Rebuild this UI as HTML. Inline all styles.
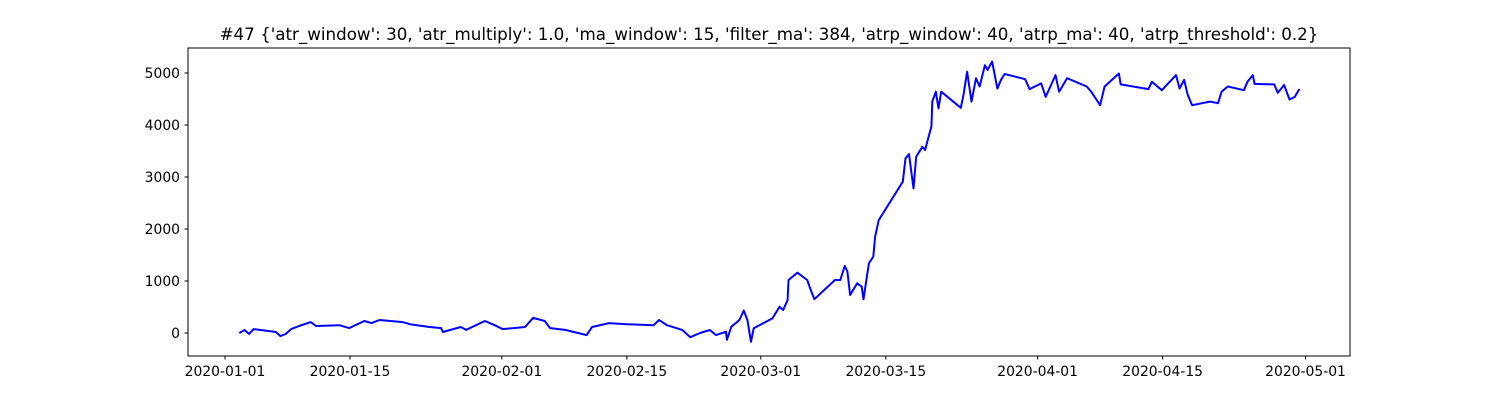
<!DOCTYPE html>
<html><head><meta charset="utf-8"><style>
body{margin:0;background:#fff;}
svg{display:block;font-family:"DejaVu Sans","Liberation Sans",sans-serif;}
</style></head><body>
<svg id="chart" width="1500" height="400">
<text x="769" y="40" text-anchor="middle" font-size="16.7">#47 {'atr_window': 30, 'atr_multiply': 1.0, 'ma_window': 15, 'filter_ma': 384, 'atrp_window': 40, 'atrp_ma': 40, 'atrp_threshold': 0.2}</text>
<g id="axes"></g>
<path id="line" fill="none" stroke="#0000ff" stroke-width="2" stroke-linejoin="round"></path>
<rect x="188" y="48" width="1162" height="308" fill="none" stroke="#000" stroke-width="1"></rect>
</svg>
<script>
// days since 2020-01-01
const days = [1.6,2.2,2.7,3.2,5.7,6.2,6.8,7.4,8.3,9.6,10.2,12.8,13.9,15.6,16.4,17.3,19.9,20.7,22.9,24.2,24.4,26.4,27.0,29.1,30.2,31.1,33.6,34.5,35.8,36.4,38.1,40.5,41.1,43.0,45.0,48.0,48.6,49.5,51.2,52.1,53.2,54.3,55.0,56.1,56.2,56.7,57.6,58.1,58.5,58.9,59.2,61.3,62.1,62.5,63.0,63.1,64.1,65.2,65.6,66.0,68.3,68.9,69.4,69.7,70.0,70.8,71.3,71.5,72.1,72.6,72.8,73.2,75.9,76.2,76.6,77.1,77.4,78.1,78.4,78.8,79.1,79.2,79.6,79.9,80.2,82.4,82.7,83.1,83.6,84.1,84.5,85.1,85.4,85.9,86.5,86.9,87.3,89.6,90.1,91.4,91.9,93.0,93.4,94.3,96.5,97.0,98.0,98.5,100.1,100.3,103.4,103.8,104.9,106.0,106.5,106.9,107.4,107.8,108.3,110.3,111.2,111.6,112.3,114.1,114.5,115.1,115.3,117.5,117.9,118.6,119.2,119.8,120.3];
const values = [0,58,-20,75,20,-60,-20,75,135,210,135,150,95,230,190,250,210,170,115,95,20,115,60,230,150,75,115,290,230,95,60,-40,115,190,170,150,250,150,60,-80,0,58,-40,25,-130,120,250,430,250,-170,90,280,505,440,635,1020,1160,1020,825,650,1020,1020,1290,1180,730,955,890,650,1340,1470,1850,2170,2910,3360,3440,2780,3390,3580,3520,3780,3970,4450,4640,4320,4640,4330,4580,5025,4450,4900,4740,5150,5060,5220,4700,4870,4980,4880,4690,4800,4540,4960,4640,4900,4740,4640,4380,4740,4990,4780,4690,4830,4670,4870,4960,4700,4870,4580,4380,4450,4420,4640,4740,4670,4830,4960,4790,4780,4620,4770,4490,4540,4690];
const yTicks = [0,1000,2000,3000,4000,5000];
const xTickDays = [0,14,31,45,60,74,91,105,121];
const xTickLabels = ["2020-01-01","2020-01-15","2020-02-01","2020-02-15","2020-03-01","2020-03-15","2020-04-01","2020-04-15","2020-05-01"];

const NS="http://www.w3.org/2000/svg";
const xS = d => 225 + d*8.93;
const yS = v => 333 - v*0.052;
const axes=document.getElementById('axes');
function mk(tag,attrs,parent){const e=document.createElementNS(NS,tag);for(const k in attrs)e.setAttribute(k,attrs[k]);parent.appendChild(e);return e;}
yTicks.forEach(v=>{
  const y=yS(v);
  const t=mk('line',{x1:184.5,x2:188,y1:y,y2:y,stroke:'#000'},axes);
  
  
  const l=mk('text',{x:180,y:y+5,'text-anchor':'end','font-size':'13.9'},axes);
  l.textContent=v;
  
  
});
xTickDays.forEach((d,i)=>{
  const x=xS(d);
  const t=mk('line',{x1:x,x2:x,y1:356,y2:359.5,stroke:'#000'},axes);
  
  
  const l=mk('text',{x:x,y:376,'text-anchor':'middle','font-size':'13.9'},axes);
  l.textContent=xTickLabels[i];
  
  
});
document.getElementById('line').setAttribute('d',days.map((d,i)=>(i?'L':'M')+xS(d).toFixed(1)+','+yS(values[i]).toFixed(1)).join(''));
</script>
</body></html>
